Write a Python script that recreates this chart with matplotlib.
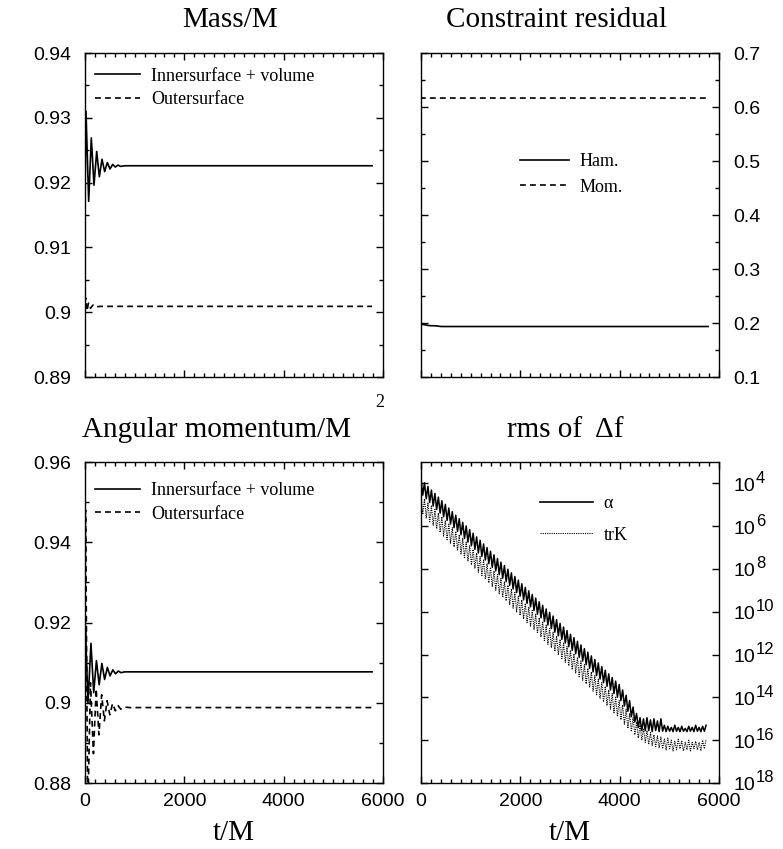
import numpy as np
import matplotlib
matplotlib.use('Agg')
import matplotlib.pyplot as plt
import matplotlib.transforms as mtransforms
from matplotlib.lines import Line2D
from matplotlib.ticker import MultipleLocator, FixedLocator, NullLocator, FuncFormatter, NullFormatter

plt.rcParams['font.family'] = 'Liberation Sans'
SERIF = 'Liberation Serif'

# --- Mass/M ---
mass_in_t = [0, 20, 74, 127, 181, 235, 289, 342, 396, 450, 503, 557, 611, 664, 718, 800, 1000, 5780]
mass_in_v = [0.9180, 0.9310, 0.9171, 0.9269, 0.9196, 0.9248, 0.9209, 0.9236, 0.9217, 0.9231,
             0.9221, 0.9228, 0.9224, 0.9227, 0.9225, 0.9226, 0.9226, 0.9226]
mass_out_t = [0, 15, 40, 70, 110, 160, 220, 300, 5780]
mass_out_v = [0.9015, 0.9022, 0.9002, 0.9014, 0.9006, 0.9011, 0.9008, 0.9009, 0.9009]

# --- Constraint residual ---
ham_t = [0, 60, 140, 200, 300, 400, 5780]
ham_v = [0.1975, 0.1970, 0.1955, 0.1950, 0.1948, 0.1935, 0.1935]
mom_t = [0, 20, 5800]
mom_v = [0.620, 0.6166, 0.6166]

# --- Angular momentum/M^2 ---
ang_in_t = [0, 10, 60, 120, 175, 230, 285, 340, 395, 450, 505, 560, 615, 670, 725, 800, 1000, 5780]
ang_in_v = [0.912, 0.918, 0.900, 0.9148, 0.9025, 0.9105, 0.9045, 0.9098, 0.9058, 0.9088,
            0.9067, 0.9082, 0.9072, 0.9079, 0.9075, 0.9077, 0.9077, 0.9077]
ang_out_t = [0, 12, 55, 110, 170, 225, 280, 335, 390, 445, 500, 555, 610, 665, 720, 800, 900, 5780]
ang_out_v = [0.922, 0.948, 0.872, 0.905, 0.8873, 0.9035, 0.892, 0.9020, 0.8955, 0.9005,
             0.8970, 0.8998, 0.8980, 0.8993, 0.8984, 0.8989, 0.8988, 0.8988]

# --- rms of delta f: log10 values, peaks at t = 0, 70, 140, ...; troughs half a step later ---
tooth_step = 70
alpha_peak = [-3.80, -3.97, -4.14, -4.31, -4.47, -4.64, -4.81, -4.98, -5.15, -5.32,
              -5.49, -5.65, -5.82, -5.99, -6.16, -6.33, -6.50, -6.66, -6.83, -7.00,
              -7.17, -7.34, -7.51, -7.68, -7.84, -8.01, -8.18, -8.35, -8.52, -8.69,
              -8.86, -9.02, -9.19, -9.36, -9.53, -9.70, -9.87, -10.03, -10.20, -10.37,
              -10.54, -10.71, -10.88, -11.05, -11.21, -11.38, -11.55, -11.72, -11.89, -12.06,
              -12.23, -12.39, -12.56, -12.73, -12.90, -13.07, -13.24, -13.40, -13.65, -13.90,
              -14.15, -14.45, -14.75, -14.95, -15.00, -14.95, -15.05, -15.00, -15.10, -15.00,
              -15.30, -15.35, -15.40, -15.30, -15.40, -15.35, -15.45, -15.35, -15.40, -15.30,
              -15.40, -15.35, -15.30]
alpha_trough = [-4.55, -4.72, -4.89, -5.06, -5.22, -5.39, -5.56, -5.73, -5.90, -6.07,
                -6.24, -6.40, -6.57, -6.74, -6.91, -7.08, -7.25, -7.41, -7.58, -7.75,
                -7.92, -8.09, -8.26, -8.43, -8.59, -8.76, -8.93, -9.10, -9.27, -9.44,
                -9.61, -9.77, -9.94, -10.11, -10.28, -10.45, -10.62, -10.78, -10.95, -11.12,
                -11.29, -11.46, -11.63, -11.80, -11.96, -12.13, -12.30, -12.47, -12.64, -12.81,
                -12.98, -13.14, -13.31, -13.48, -13.65, -13.82, -13.99, -14.15, -14.40, -14.65,
                -14.90, -15.15, -15.40, -15.55, -15.55, -15.55, -15.60, -15.55, -15.60, -15.58,
                -15.60, -15.58, -15.60, -15.58, -15.60, -15.58, -15.60, -15.58, -15.60, -15.58,
                -15.60, -15.58]
trk_peak = [-4.55, -4.72, -4.89, -5.06, -5.22, -5.39, -5.56, -5.73, -5.90, -6.07,
            -6.24, -6.40, -6.57, -6.74, -6.91, -7.08, -7.25, -7.41, -7.58, -7.75,
            -7.92, -8.09, -8.26, -8.43, -8.59, -8.76, -8.93, -9.10, -9.27, -9.44,
            -9.61, -9.77, -9.94, -10.11, -10.28, -10.45, -10.62, -10.78, -10.95, -11.12,
            -11.29, -11.46, -11.63, -11.80, -11.96, -12.13, -12.30, -12.47, -12.64, -12.81,
            -12.98, -13.14, -13.31, -13.48, -13.65, -13.82, -13.99, -14.15, -14.35, -14.55,
            -14.75, -14.95, -15.15, -15.30, -15.45, -15.55, -15.65, -15.75, -15.80, -15.85,
            -15.95, -15.90, -16.00, -16.05, -15.95, -16.05, -16.10, -16.00, -16.10, -16.05,
            -16.10, -16.00, -15.95]
trk_trough = [-5.45, -5.62, -5.79, -5.96, -6.12, -6.29, -6.46, -6.63, -6.80, -6.97,
              -7.14, -7.30, -7.47, -7.64, -7.81, -7.98, -8.15, -8.31, -8.48, -8.65,
              -8.82, -8.99, -9.16, -9.33, -9.49, -9.66, -9.83, -10.00, -10.17, -10.34,
              -10.51, -10.67, -10.84, -11.01, -11.18, -11.35, -11.52, -11.68, -11.85, -12.02,
              -12.19, -12.36, -12.53, -12.70, -12.86, -13.03, -13.20, -13.37, -13.54, -13.71,
              -13.88, -14.04, -14.21, -14.38, -14.55, -14.72, -14.89, -15.05, -15.25, -15.45,
              -15.60, -15.75, -15.90, -16.00, -16.10, -16.20, -16.25, -16.30, -16.35, -16.40,
              -16.45, -16.40, -16.50, -16.45, -16.40, -16.50, -16.45, -16.50, -16.40, -16.45,
              -16.50, -16.40]
log_ticks = [4, 6, 8, 10, 12, 14, 16, 18]


def zigzag(peaks, troughs, step):
    t_p = np.arange(len(peaks)) * step
    t_t = np.arange(len(troughs)) * step + step / 2
    t = np.concatenate([t_p, t_t])
    v = np.concatenate([peaks, troughs])
    order = np.argsort(t)
    return t[order], 10.0 ** v[order]


def style_axis(ax, right=False):
    ax.set_xlim(0, 6000)
    ax.xaxis.set_major_locator(MultipleLocator(2000))
    ax.xaxis.set_minor_locator(MultipleLocator(200))
    ax.tick_params(which='both', direction='in', top=True, right=True, left=True, bottom=True,
                   labelsize=14, width=1)
    ax.tick_params(which='major', length=5)
    ax.tick_params(which='minor', length=3)
    ax.tick_params(axis='y', pad=10)
    ax.tick_params(axis='x', pad=7)
    if right:
        ax.tick_params(labelleft=False, labelright=True)
    for s in ax.spines.values():
        s.set_linewidth(1)


fig = plt.figure(figsize=(7.83, 8.49), dpi=100)
W, H = 783, 849


def add_ax(x0, y0, x1, y1):
    return fig.add_axes([x0 / W, 1 - y1 / H, (x1 - x0) / W, (y1 - y0) / H])


ax1 = add_ax(85, 53, 383, 377)
ax2 = add_ax(421, 53, 719, 377)
ax3 = add_ax(85, 462, 383, 783)
ax4 = add_ax(421, 462, 719, 783)

dash = (0, (3.5, 2.5))
lw = 1.2
leg_font = {'family': SERIF, 'size': 13}


def two_handles(style2, lw2=lw):
    return [Line2D([], [], color='black', lw=lw), Line2D([], [], color='black', lw=lw2, linestyle=style2)]


# Mass
ax1.plot(mass_in_t, mass_in_v, color='black', lw=lw)
ax1.plot(mass_out_t, mass_out_v, color='black', lw=lw, linestyle=dash)
ax1.set_ylim(0.89, 0.94)
ax1.yaxis.set_major_locator(MultipleLocator(0.01))
ax1.yaxis.set_minor_locator(MultipleLocator(0.005))
ax1.yaxis.set_major_formatter(FuncFormatter(lambda v, p: '0.9' if abs(v - 0.9) < 1e-9 else f'{v:.2f}'))
style_axis(ax1)
ax1.tick_params(labelbottom=False)
ax1.legend(two_handles(dash), ['Innersurface + volume', 'Outersurface'], loc='upper left',
           bbox_to_anchor=(0.034, 0.955), frameon=False, prop=leg_font, handlelength=2.5,
           handletextpad=0.6, borderpad=0, borderaxespad=0, labelspacing=0.35)

# Constraint residual
ax2.plot(ham_t, ham_v, color='black', lw=lw)
ax2.plot(mom_t, mom_v, color='black', lw=lw, linestyle=dash)
ax2.set_ylim(0.1, 0.7)
ax2.yaxis.set_major_locator(MultipleLocator(0.1))
ax2.yaxis.set_minor_locator(MultipleLocator(0.05))
ax2.yaxis.set_major_formatter(FuncFormatter(lambda v, p: f'{v:.1f}'))
style_axis(ax2, right=True)
ax2.tick_params(labelbottom=False)
ax2.legend(two_handles(dash), ['Ham.', 'Mom.'], loc='upper left', bbox_to_anchor=(0.332, 0.69),
           frameon=False, prop=leg_font, handlelength=2.7, handletextpad=0.6, borderpad=0,
           borderaxespad=0, labelspacing=0.45)

# Angular momentum
ax3.plot(ang_in_t, ang_in_v, color='black', lw=lw)
ax3.plot(ang_out_t, ang_out_v, color='black', lw=lw, linestyle=dash)
ax3.set_ylim(0.88, 0.96)
ax3.yaxis.set_major_locator(MultipleLocator(0.02))
ax3.yaxis.set_minor_locator(MultipleLocator(0.01))
ax3.yaxis.set_major_formatter(FuncFormatter(lambda v, p: '0.9' if abs(v - 0.9) < 1e-9 else f'{v:.2f}'))
style_axis(ax3)
ax3.legend(two_handles(dash), ['Innersurface + volume', 'Outersurface'], loc='upper left',
           bbox_to_anchor=(0.034, 0.937), frameon=False, prop=leg_font, handlelength=2.5,
           handletextpad=0.6, borderpad=0, borderaxespad=0, labelspacing=0.35)

# rms of delta f
dot = (0, (1, 1))
ta, va = zigzag(alpha_peak, alpha_trough, tooth_step)
tk, vk = zigzag(trk_peak, trk_trough, tooth_step)
ax4.plot(ta, va, color='black', lw=1.1)
ax4.plot(tk, vk, color='black', lw=0.8, linestyle=dot)
ax4.set_yscale('log')
ax4.set_ylim(1e-18, 1e-3)
ax4.yaxis.set_major_locator(FixedLocator([10.0 ** -e for e in log_ticks]))
ax4.yaxis.set_minor_locator(NullLocator())
ax4.yaxis.set_major_formatter(NullFormatter())
style_axis(ax4, right=True)
# tick labels drawn as "10" plus raised exponent, as in the original figure
tr = mtransforms.blended_transform_factory(ax4.transAxes, ax4.transData)
down = mtransforms.ScaledTranslation(0, -3 / 100, fig.dpi_scale_trans)
up = mtransforms.ScaledTranslation(0, 5 / 100, fig.dpi_scale_trans)
for e in log_ticks:
    ax4.text(1.047, 10.0 ** -e, '10', transform=tr + down, ha='left', va='center', fontsize=14,
             clip_on=False)
    ax4.text(1.124, 10.0 ** -e, str(e), transform=tr + up, ha='left', va='center', fontsize=12,
             clip_on=False)
ax4.legend(two_handles(dot, 0.8), ['\u03b1', 'trK'], loc='upper left', bbox_to_anchor=(0.40, 0.897),
           frameon=False, prop=leg_font, handlelength=2.9, handletextpad=0.6, borderpad=0,
           borderaxespad=0, labelspacing=0.8)

# titles and axis labels
tfont = {'family': SERIF, 'size': 21}
fig.text(230 / W, 1 - 20 / H, 'Mass/M', ha='center', va='center', **tfont)
fig.text(557 / W, 1 - 20 / H, 'Constraint residual', ha='center', va='center', **tfont)
fig.text(216 / W, 1 - 430 / H, 'Angular momentum/M', ha='center', va='center', **tfont)
fig.text(380 / W, 1 - 402 / H, '2', ha='center', va='center', family=SERIF, size=13)
fig.text(565 / W, 1 - 430 / H, 'rms of  \u0394f', ha='center', va='center', **tfont)
fig.text(234 / W, 1 - 833 / H, 't/M', ha='center', va='center', **tfont)
fig.text(570 / W, 1 - 833 / H, 't/M', ha='center', va='center', **tfont)

fig.savefig('out.png', dpi=100)
